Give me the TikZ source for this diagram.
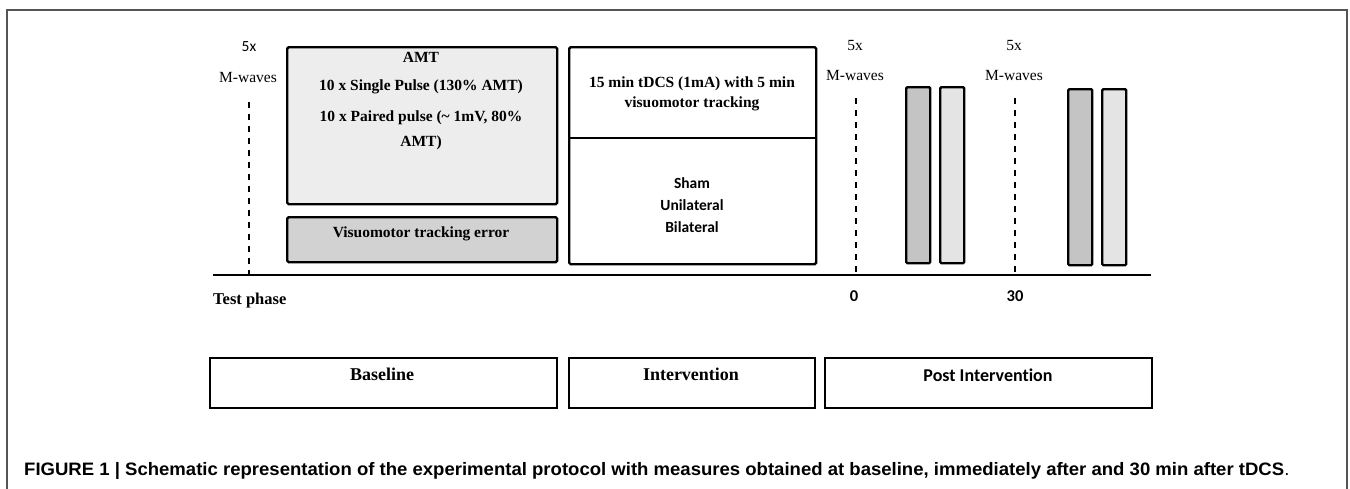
\documentclass[tikz,border=0pt]{standalone}
\usepackage{fontspec}
\setmainfont{Liberation Serif}
\newfontfamily\calib[Ligatures={NoCommon,NoRare}]{Carlito}
\newfontfamily\capfont[FakeStretch=1.03]{Liberation Sans}
\definecolor{dotfill}{HTML}{EDEDED}
\definecolor{grayfill}{HTML}{D2D2D2}
\definecolor{barfill}{HTML}{C4C4C4}
\definecolor{bardot}{HTML}{E4E4E4}
\definecolor{framecol}{HTML}{555555}
\begin{document}
\begin{tikzpicture}[x=1pt,y=-1pt,
  thickbox/.style={draw, line width=2.4pt, rounded corners=1.5pt, inner sep=0pt},
  phasebox/.style={draw, line width=1.8pt, inner sep=0pt},
  bar/.style={draw, line width=2.4pt, rounded corners=1.2pt, inner sep=0pt},
  sb/.style={font=\fontsize{15.5}{18}\selectfont\bfseries, inner sep=0pt, anchor=base},
  sr/.style={font=\fontsize{15.5}{18}\selectfont, inner sep=0pt, anchor=base},
  cb/.style={font=\calib\fontsize{15.5}{18}\selectfont\bfseries, inner sep=0pt, anchor=base},
  big/.style={font=\fontsize{18}{21}\selectfont\bfseries, inner sep=0pt, anchor=base},
  dashline/.style={line width=1.5pt, dash pattern=on 6pt off 6pt}
]
\useasboundingbox (0,0) rectangle (1350,488);
% frame
\draw[framecol, line width=1.3pt] (7,495) -- (7,10) -- (1347,10) -- (1347,495);

% timeline
\coordinate (axL) at (213,275);
\coordinate (axR) at (1151,275);
\draw[line width=2.8pt] (axL) -- (axR);

% baseline boxes
\node[thickbox, fill=dotfill, anchor=north west, minimum width=270pt, minimum height=157pt] (amtbox) at (286,46) {};
\node[thickbox, fill=grayfill, anchor=north west, minimum width=270pt, minimum height=45pt] (vmbox) at (286,216) {};
\node[sb] (amt1) at (421,62) {AMT};
\node[sb] (amt2) at (421,90) {10 x Single Pulse (130\% AMT)};
\node[sb] (amt3) at (421,121) {10 x Paired pulse (\textasciitilde{} 1mV, 80\%};
\node[sb] (amt4) at (421,146) {AMT)};
\node[sb] (vmtext) at (421,237) {Visuomotor tracking error};

% intervention box
\node[thickbox, anchor=north west, minimum width=247pt, minimum height=217pt] (intbox) at (568,46) {};
\coordinate (divL) at (568,138);
\coordinate (divR) at (815,138);
\draw[line width=2.4pt] (divL) -- (divR);
\node[sb] (int1) at (692,87) {15 min tDCS (1mA) with 5 min};
\node[sb] (int2) at (692,107) {visuomotor tracking};
\node[cb] (sham) at (692,188) {Sham};
\node[cb] (uni) at (692,210) {Unilateral};
\node[cb] (bil) at (692,232) {Bilateral};

% M-wave labels and dashed markers
\node[font=\calib\fontsize{15.5}{18}\selectfont, inner sep=0pt, anchor=base] (fx1) at (249,51) {5x};
\node[sr] (mw1) at (248,82) {M-waves};
\node[sr] (fx2) at (855,50) {5x};
\node[sr] (mw2) at (855,80) {M-waves};
\node[sr] (fx3) at (1014,50) {5x};
\node[sr] (mw3) at (1014,80) {M-waves};
\coordinate (d1t) at (249,102); \coordinate (d1b) at (249,275);
\coordinate (d2t) at (856,98);  \coordinate (d2b) at (856,275);
\coordinate (d3t) at (1015,98); \coordinate (d3b) at (1015,275);
\draw[dashline] (d1t) -- (d1b);
\draw[dashline] (d2t) -- (d2b);
\draw[dashline] (d3t) -- (d3b);

% bars
\node[bar, fill=barfill, anchor=north west, minimum width=24pt, minimum height=176pt] (b1) at (905,86) {};
\node[bar, fill=bardot, anchor=north west, minimum width=24pt, minimum height=176pt] (b2) at (939,86) {};
\node[bar, fill=barfill, anchor=north west, minimum width=24pt, minimum height=176pt] (b3) at (1067,88) {};
\node[bar, fill=bardot, anchor=north west, minimum width=24pt, minimum height=176pt] (b4) at (1101,88) {};

% axis labels
\node[font=\fontsize{16.5}{19}\selectfont\bfseries, inner sep=0pt, anchor=base west] (tp) at (213,304) {Test phase};
\node[font=\calib\fontsize{16.5}{19}\selectfont\bfseries, inner sep=0pt, anchor=base] (t0) at (854,301) {0};
\node[font=\calib\fontsize{16.5}{19}\selectfont\bfseries, inner sep=0pt, anchor=base] (t30) at (1015,301) {30};

% phase boxes
\node[phasebox, anchor=north west, minimum width=347pt, minimum height=50pt] (pbase) at (209,357) {};
\node[phasebox, anchor=north west, minimum width=246pt, minimum height=50pt] (pint) at (568,357) {};
\node[phasebox, anchor=north west, minimum width=327pt, minimum height=50pt] (ppost) at (824,357) {};
\node[big] (lbase) at (382,380) {Baseline};
\node[big] (lint) at (691,380) {Intervention};
\node[font=\calib\fontsize{18}{21}\selectfont\bfseries, inner sep=0pt, anchor=base] (lpost) at (988,381) {Post Intervention};

% caption
\node[font=\capfont\fontsize{18}{21}\selectfont\bfseries, inner sep=0pt, anchor=base west] (cap) at (24,475) {FIGURE 1 | Schematic representation of the experimental protocol with measures obtained at baseline, immediately after and 30 min after tDCS{\mdseries .}};
\end{tikzpicture}
\end{document}
